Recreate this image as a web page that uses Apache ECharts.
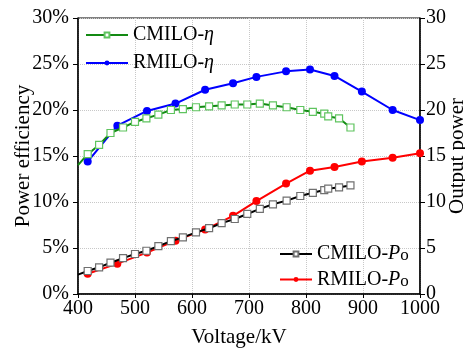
<!DOCTYPE html>
<html>
<head>
<meta charset="utf-8">
<script src="https://cdn.jsdelivr.net/npm/echarts@6/dist/echarts.min.js"></script>
<style>
  html, body { margin: 0; padding: 0; background: #fff; }
  #chart { width: 465px; height: 350px; }
</style>
</head>
<body>
<div id="chart"></div>
<script>
// Voltage sweep (kV) for each device
const cmiloVoltage = [400, 417, 437, 457, 479, 500, 520, 541, 563, 584, 607, 630, 652, 675, 697, 719, 742, 766, 790, 812, 832, 839, 858, 878];
const rmiloVoltage = [417, 469, 521, 571, 623, 672, 713, 765, 807, 850, 898, 952, 1000];

// Power efficiency (%)
const cmiloEta = [14.0, 15.2, 16.2, 17.5, 18.1, 18.7, 19.1, 19.5, 20.0, 20.1, 20.3, 20.4, 20.5, 20.6, 20.6, 20.7, 20.5, 20.3, 20.0, 19.8, 19.6, 19.3, 19.1, 18.1];
const rmiloEta = [14.4, 18.3, 19.9, 20.7, 22.2, 22.9, 23.6, 24.2, 24.4, 23.7, 22.0, 20.0, 18.9];

// Output power
const cmiloPo = [2.1, 2.5, 2.9, 3.4, 3.9, 4.35, 4.7, 5.2, 5.75, 6.15, 6.7, 7.15, 7.7, 8.15, 8.7, 9.25, 9.75, 10.15, 10.65, 11.0, 11.3, 11.45, 11.6, 11.8];
const rmiloPo = [2.2, 3.3, 4.5, 5.8, 7.0, 8.5, 10.1, 12.0, 13.4, 13.8, 14.4, 14.8, 15.3];

const leftTicks = [0, 5, 10, 15, 20, 25, 30];

const FONT = '"Liberation Serif", "Times New Roman", serif';

// the first CMILO sample sits on the axis edge without a marker
function pairs(xs, ys, hideFirst) {
  return xs.map((x, i) => {
    const item = { value: [x, ys[i]] };
    if (hideFirst && i === 0) item.symbol = 'none';
    return item;
  });
}

const richText = {
  a: { fontFamily: FONT, fontSize: 20, color: '#000' },
  i: { fontFamily: FONT, fontSize: 20, fontStyle: 'italic', color: '#000' },
  s: { fontFamily: FONT, fontSize: 17, color: '#000', padding: [4, 0, 0, 0] }
};

function legendLabel(name) {
  const parts = name.split('-');
  if (parts[1] === 'η') return '{a|' + parts[0] + '-}{i|η}';
  return '{a|' + parts[0] + '-}{i|P}{s|o}';
}

const chart = echarts.init(document.getElementById('chart'), null, { renderer: 'canvas' });

const axisText = { fontFamily: FONT, fontSize: 20, color: '#000' };

chart.setOption({
  animation: false,
  backgroundColor: '#fff',
  textStyle: { fontFamily: FONT },
  grid: {
    left: 78, right: 45, top: 18, bottom: 56,
    containLabel: false, outerBoundsMode: 'none',
    show: true, borderColor: '#000', borderWidth: 1, backgroundColor: 'transparent'
  },
  legend: [
    {
      data: ['CMILO-η', 'RMILO-η'],
      orient: 'vertical',
      left: 85, top: 25, padding: 0,
      itemWidth: 42, itemHeight: 6, itemGap: 8,
      formatter: legendLabel,
      textStyle: { fontFamily: FONT, fontSize: 20, lineHeight: 20, color: '#000', rich: richText }
    },
    {
      data: ['CMILO-Po', 'RMILO-Po'],
      orient: 'vertical',
      left: 279, top: 244, padding: 0,
      itemWidth: 32, itemHeight: 6, itemGap: 5,
      formatter: legendLabel,
      textStyle: { fontFamily: FONT, fontSize: 20, lineHeight: 20, color: '#000', rich: richText }
    }
  ],
  xAxis: {
    type: 'value', min: 400, max: 1000, interval: 100,
    name: 'Voltage/kV', nameLocation: 'middle', nameGap: 33, nameMoveOverlap: false,
    nameTextStyle: { fontFamily: FONT, fontSize: 21, color: '#000', padding: [0, 20, 0, 0] },
    axisLine: { show: true, lineStyle: { color: '#000', width: 1.5 } },
    axisTick: { show: true, inside: false, length: 4, lineStyle: { color: '#000' } },
    axisLabel: Object.assign({ margin: 5, formatter: v => String(v) }, axisText),
    splitLine: { show: true, lineStyle: { color: '#c8c8c8', type: 'dotted', width: 1 } }
  },
  yAxis: [
    {
      type: 'value', min: 0, max: 30, interval: 5, position: 'left',
      name: 'Power efficiency', nameLocation: 'middle', nameGap: 44, nameMoveOverlap: false,
      nameTextStyle: { fontFamily: FONT, fontSize: 21, color: '#000' },
      axisLine: { show: true, lineStyle: { color: '#000', width: 1.5 } },
      axisTick: { show: true, inside: false, length: 5, lineStyle: { color: '#000' } },
      axisLabel: Object.assign({ margin: 9, formatter: v => leftTicks.includes(v) ? v + '%' : '' }, axisText),
      splitLine: { show: true, lineStyle: { color: '#c8c8c8', type: 'dotted', width: 1 } }
    },
    {
      type: 'value', min: 0, max: 30, interval: 5, position: 'right',
      name: 'Output power', nameLocation: 'middle', nameGap: 27, nameMoveOverlap: false,
      nameTextStyle: { fontFamily: FONT, fontSize: 21, color: '#000' },
      axisLine: { show: true, lineStyle: { color: '#000', width: 1.5 } },
      axisTick: { show: true, inside: false, length: 5, lineStyle: { color: '#000' } },
      axisLabel: Object.assign({ margin: 6 }, axisText),
      splitLine: { show: false }
    }
  ],
  series: [
    {
      name: 'CMILO-η', type: 'line', yAxisIndex: 0,
      data: pairs(cmiloVoltage, cmiloEta, true),
      symbol: 'rect', symbolSize: 7,
      lineStyle: { color: '#138a13', width: 2 },
      itemStyle: { color: '#fff', borderColor: '#5fc45f', borderWidth: 1.2 },
      z: 3
    },
    {
      name: 'RMILO-η', type: 'line', yAxisIndex: 0,
      data: pairs(rmiloVoltage, rmiloEta, false),
      symbol: 'circle', symbolSize: 8,
      lineStyle: { color: '#0000ff', width: 2 },
      itemStyle: { color: '#0000ff' },
      z: 2
    },
    {
      name: 'CMILO-Po', type: 'line', yAxisIndex: 1,
      data: pairs(cmiloVoltage, cmiloPo, true),
      symbol: 'rect', symbolSize: 7,
      lineStyle: { color: '#000', width: 2 },
      itemStyle: { color: '#fff', borderColor: '#707070', borderWidth: 1.2 },
      z: 3
    },
    {
      name: 'RMILO-Po', type: 'line', yAxisIndex: 1,
      data: pairs(rmiloVoltage, rmiloPo, false),
      symbol: 'circle', symbolSize: 8,
      lineStyle: { color: '#ff0000', width: 2 },
      itemStyle: { color: '#ff0000' },
      z: 2
    }
  ]
});
</script>
</body>
</html>
